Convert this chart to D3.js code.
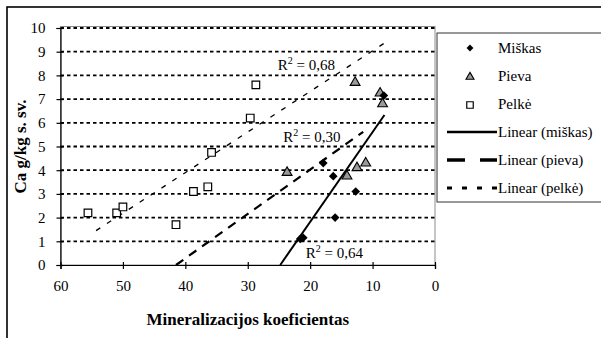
<!DOCTYPE html>
<html>
<head>
<meta charset="utf-8">
<script src="https://cdn.jsdelivr.net/npm/d3@7"></script>
<style>
  html, body { margin: 0; padding: 0; background: #fff; }
  svg { display: block; }
  svg, svg text { font-family: "Liberation Serif", "Times New Roman", serif; fill: #000; }
</style>
</head>
<body>
<svg id="chart" width="601" height="338"></svg>
<script>
// Mineralization coefficient (x) vs. Ca content (y) for three land types
const miskasX = [17.9, 16.3, 12.7, 16.0, 21.1, 21.6, 8.2];
const miskasY = [4.3, 3.75, 3.1, 2.0, 1.15, 1.1, 7.15];

const pievaX = [23.7, 14.1, 12.5, 11.1, 12.8, 8.8, 8.4];
const pievaY = [3.9, 3.75, 4.1, 4.3, 7.7, 7.25, 6.8];

const pelkeX = [55.6, 51.0, 50.0, 41.5, 38.7, 36.4, 35.8, 29.6, 28.7];
const pelkeY = [2.2, 2.2, 2.45, 1.7, 3.1, 3.3, 4.75, 6.2, 7.6];

// Linear trend lines: [x, y] end points
const trendMiskas = [[24.8, 0], [8.1, 6.33]];
const trendPieva  = [[41.5, 0], [11.5, 5.62]];
const trendPelke  = [[54.3, 1.45], [8.0, 9.38]];

// Coefficients of determination and where their labels sit (data units)
const r2Values = ["0,68", "0,30", "0,64"];
const r2Anchors = [[25.2, 8.23], [24.3, 5.2], [20.7, 0.28]];

const xTicks = [60, 50, 40, 30, 20, 10, 0];
const yTicks = [0, 1, 2, 3, 4, 5, 6, 7, 8, 9, 10];

const legendLabels = ["Miškas", "Pieva", "Pelkė", "Linear (miškas)", "Linear (pieva)", "Linear (pelkė)"];

const serif = "'Liberation Serif', 'Times New Roman', serif";
const svg = d3.select("#chart").attr("font-family", serif);

// Outer chart frame
svg.append("rect")
  .attr("x", 7).attr("y", 7).attr("width", 620).attr("height", 360)
  .attr("fill", "#fff").attr("stroke", "#000").attr("stroke-width", 1.6);

const x = d3.scaleLinear().domain([60, 0]).range([60.5, 435]);
const y = d3.scaleLinear().domain([0, 10]).range([265, 28]);

// Plot area border
svg.append("rect")
  .attr("x", x(60)).attr("y", 26.5)
  .attr("width", x(0) - x(60)).attr("height", y(0) - 26.5)
  .attr("fill", "none").attr("stroke", "#8c8c8c").attr("stroke-width", 1);

// Horizontal dotted gridlines
svg.append("g").selectAll("line")
  .data(yTicks.filter(d => d > 0))
  .join("line")
  .attr("x1", x(60)).attr("x2", x(0))
  .attr("y1", d => y(d)).attr("y2", d => y(d))
  .attr("stroke", "#000").attr("stroke-width", 1.8)
  .attr("stroke-dasharray", "3.5,3");

// Axes
const xAxis = svg.append("g")
  .attr("transform", `translate(0,${y(0)})`)
  .call(d3.axisBottom(x).tickValues(xTicks).tickSize(4).tickPadding(11).tickFormat(d3.format("d")));
const yAxis = svg.append("g")
  .attr("transform", `translate(${x(60)},0)`)
  .call(d3.axisLeft(y).tickValues(yTicks).tickSize(4).tickPadding(11).tickFormat(d3.format("d")));

[xAxis, yAxis].forEach(g => {
  g.attr("font-family", serif).attr("font-size", 15);
  g.select(".domain").attr("stroke", "#000").attr("stroke-width", 1.2);
  g.selectAll(".tick line").attr("stroke", "#000").attr("stroke-width", 1.2);
  g.selectAll(".tick text").attr("font-family", serif).attr("font-size", 15).attr("fill", "#000");
});
// Ticks cross the axis lines
xAxis.selectAll(".tick line").attr("y1", -3);
yAxis.selectAll(".tick line").attr("x1", 3);

// Trend lines
const line = d3.line().x(d => x(d[0])).y(d => y(d[1]));
svg.append("path").datum(trendPelke).attr("d", line)
  .attr("fill", "none").attr("stroke", "#000").attr("stroke-width", 1.3)
  .attr("stroke-dasharray", "5,8");
svg.append("path").datum(trendPieva).attr("d", line)
  .attr("fill", "none").attr("stroke", "#000").attr("stroke-width", 2.2)
  .attr("stroke-dasharray", "9,7");
svg.append("path").datum(trendMiskas).attr("d", line)
  .attr("fill", "none").attr("stroke", "#000").attr("stroke-width", 2);

// Markers
const diamond = d3.symbol().type(d3.symbolDiamond2).size(48);
const triangle = d3.symbol().type(d3.symbolTriangle).size(42);
const square = d3.symbol().type(d3.symbolSquare).size(58);

svg.append("g").selectAll("path")
  .data(pelkeX.map((v, i) => [v, pelkeY[i]]))
  .join("path")
  .attr("transform", d => `translate(${x(d[0])},${y(d[1])})`)
  .attr("d", square)
  .attr("fill", "#fff").attr("stroke", "#000").attr("stroke-width", 1.2);

svg.append("g").selectAll("path")
  .data(pievaX.map((v, i) => [v, pievaY[i]]))
  .join("path")
  .attr("transform", d => `translate(${x(d[0])},${y(d[1])})`)
  .attr("d", triangle)
  .attr("fill", "#9a9a9a").attr("stroke", "#000").attr("stroke-width", 1.1);

svg.append("g").selectAll("path")
  .data(miskasX.map((v, i) => [v, miskasY[i]]))
  .join("path")
  .attr("transform", d => `translate(${x(d[0])},${y(d[1])})`)
  .attr("d", diamond)
  .attr("fill", "#000");

// R² labels
r2Values.forEach((v, i) => {
  const t = svg.append("text")
    .attr("x", x(r2Anchors[i][0])).attr("y", y(r2Anchors[i][1]))
    .attr("font-size", 15);
  t.append("tspan").text("R");
  t.append("tspan").attr("dy", -6).attr("font-size", 10).text("2");
  t.append("tspan").attr("dy", 6).text(" = " + v);
});

// Axis titles
svg.append("text")
  .attr("x", (x(60) + x(0)) / 2).attr("y", 325)
  .attr("text-anchor", "middle").attr("font-size", 17).attr("font-weight", "bold")
  .text("Mineralizacijos koeficientas");
svg.append("text")
  .attr("transform", `translate(26,${(y(0) + y(10)) / 2}) rotate(-90)`)
  .attr("text-anchor", "middle").attr("font-size", 17).attr("font-weight", "bold")
  .text("Ca g/kg s. sv.");

// Legend
const legend = svg.append("g");
legend.append("rect")
  .attr("x", 437).attr("y", 33).attr("width", 200).attr("height", 169)
  .attr("fill", "#fff").attr("stroke", "#333").attr("stroke-width", 1);

const rowY = i => 48 + i * 28;
const items = legend.selectAll("g.item")
  .data(legendLabels)
  .join("g").attr("class", "item")
  .attr("transform", (d, i) => `translate(0,${rowY(i)})`);

items.append("text")
  .attr("x", 498).attr("y", 5)
  .attr("font-size", 15)
  .text(d => d);

const lineStyles = [null, null, null,
  { w: 2.5, dash: null },
  { w: 3.5, dash: "18,15" },
  { w: 3, dash: "5,10" }];

items.each(function(d, i) {
  const g = d3.select(this);
  if (i === 0) {
    g.append("path").attr("transform", "translate(470,0)")
      .attr("d", d3.symbol().type(d3.symbolDiamond2).size(30)).attr("fill", "#000");
  } else if (i === 1) {
    g.append("path").attr("transform", "translate(470,1)")
      .attr("d", d3.symbol().type(d3.symbolTriangle).size(28))
      .attr("fill", "#9a9a9a").attr("stroke", "#000").attr("stroke-width", 1.1);
  } else if (i === 2) {
    g.append("path").attr("transform", "translate(470,1)")
      .attr("d", d3.symbol().type(d3.symbolSquare).size(42))
      .attr("fill", "#fff").attr("stroke", "#000").attr("stroke-width", 1.2);
  } else {
    const s = lineStyles[i];
    g.append("line")
      .attr("x1", 447).attr("x2", 497).attr("y1", 0).attr("y2", 0)
      .attr("stroke", "#000").attr("stroke-width", s.w)
      .attr("stroke-dasharray", s.dash);
  }
});
</script>
</body>
</html>
